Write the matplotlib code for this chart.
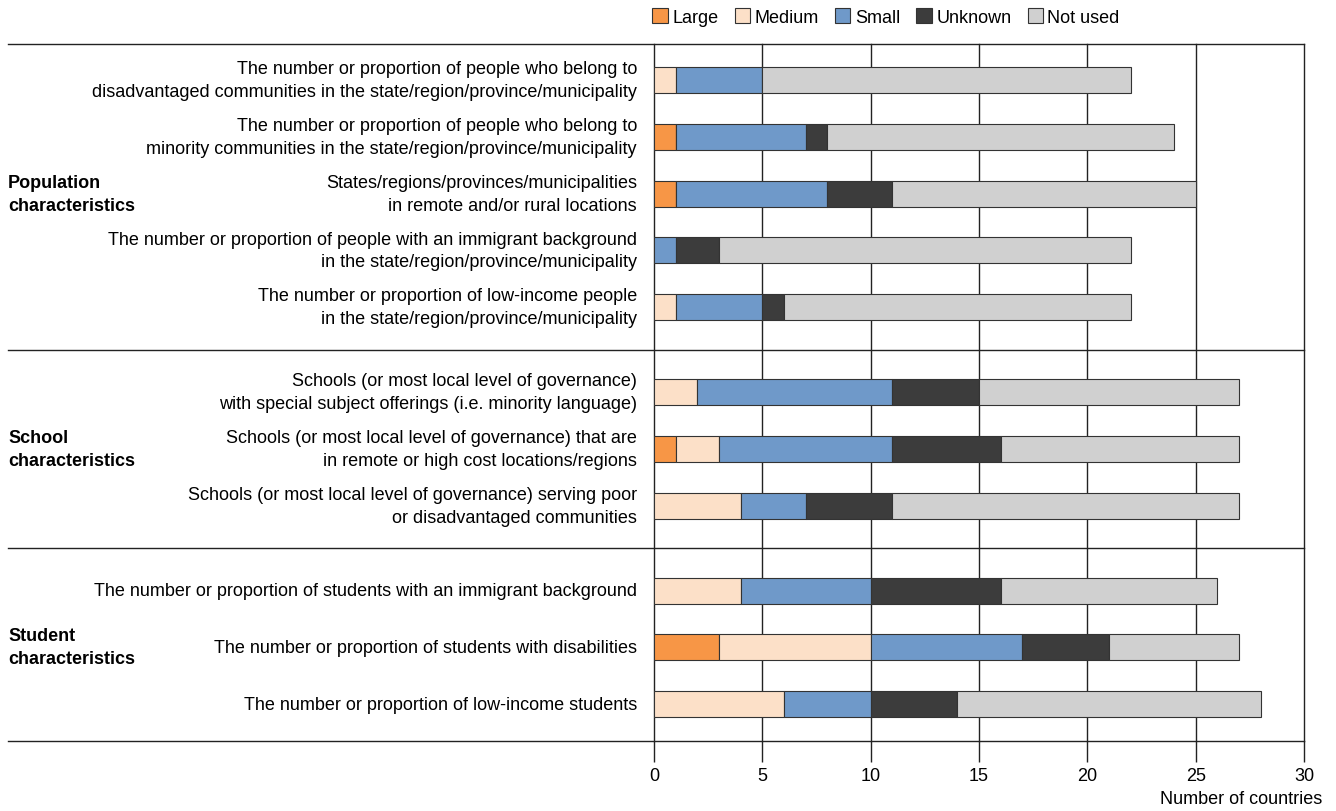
import numpy as np
import matplotlib.pyplot as plt
import matplotlib.transforms as mtransforms
from matplotlib.patches import Patch

plt.rcParams['font.family'] = ['Liberation Sans Narrow', 'Liberation Sans', 'DejaVu Sans']

labels = [
    "The number or proportion of people who belong to\ndisadvantaged communities in the state/region/province/municipality",
    "The number or proportion of people who belong to\nminority communities in the state/region/province/municipality",
    "States/regions/provinces/municipalities\nin remote and/or rural locations",
    "The number or proportion of people with an immigrant background\nin the state/region/province/municipality",
    "The number or proportion of low-income people\nin the state/region/province/municipality",
    "Schools (or most local level of governance)\nwith special subject offerings (i.e. minority language)",
    "Schools (or most local level of governance) that are\nin remote or high cost locations/regions",
    "Schools (or most local level of governance) serving poor\nor disadvantaged communities",
    "The number or proportion of students with an immigrant background",
    "The number or proportion of students with disabilities",
    "The number or proportion of low-income students",
]
groups = ["Population\ncharacteristics", "School\ncharacteristics", "Student\ncharacteristics"]
group_sizes = [5, 3, 3]

series = ["Large", "Medium", "Small", "Unknown", "Not used"]
large = [0, 1, 1, 0, 0, 0, 1, 0, 0, 3, 0]
medium = [1, 0, 0, 0, 1, 2, 2, 4, 4, 7, 6]
small = [4, 6, 7, 1, 4, 9, 8, 3, 6, 7, 4]
unknown = [0, 1, 3, 2, 1, 4, 5, 4, 6, 4, 4]
not_used = [17, 16, 14, 19, 16, 12, 11, 16, 10, 6, 14]
colors = ["#F79646", "#FCE0C8", "#6F99C9", "#3C3C3C", "#D0D0D0"]

# y positions with a gap between groups
gap = 0.5
pos = []
y = 0.0
for n in group_sizes:
    for k in range(n):
        pos.append(y)
        y += 1
    y += gap
pos = np.array(pos)

W, H = 1336, 812
fig = plt.figure(figsize=(W / 100, H / 100), dpi=100)
ax = fig.add_axes([654 / W, 1 - 742 / H, 650 / W, (742 - 45) / H])

left = np.zeros(len(labels))
for name, vals, c in zip(series, [large, medium, small, unknown, not_used], colors):
    vals = np.array(vals)
    ax.barh(pos, vals, left=left, height=0.46, color=c, edgecolor="#333333",
            linewidth=0.8, zorder=3)
    left += vals

ax.set_xlim(0, 30)
ax.set_ylim(pos[-1] + 0.65, -0.64)
ax.set_xticks(np.arange(0, 31, 5))
ax.grid(axis="x", color="#222222", linewidth=1.0, zorder=0)
for gl in ax.get_xgridlines():
    gl.set_clip_on(False)
ax.tick_params(axis="x", length=15, width=1.0, color="#222222", pad=4, labelsize=13)
ax.tick_params(axis="y", left=False, labelleft=False)
for s in ax.spines.values():
    s.set_visible(False)

# horizontal separators across the whole width
xmin = (8 - 654) / 650
ax.axhline(-0.64, xmin=xmin, xmax=1, color="#222222", lw=1.0, clip_on=False)
ax.axhline(pos[-1] + 0.65, xmin=xmin, xmax=1, color="#222222", lw=1.0, clip_on=False)
start = 0
for n in group_sizes[:-1]:
    sep = (pos[start + n - 1] + pos[start + n]) / 2
    ax.axhline(sep, xmin=xmin, xmax=1, color="#222222", lw=1.0, clip_on=False)
    start += n

# category labels
for p, lab in zip(pos, labels):
    ax.annotate(lab, xy=(0, p), xycoords=("axes fraction", "data"),
                xytext=(-17, 0), textcoords="offset pixels",
                ha="right", va="center", fontsize=13, linespacing=1.45)

# group labels
trans = mtransforms.blended_transform_factory(fig.transFigure, ax.transData)
start = 0
for g, n in zip(groups, group_sizes):
    mid = pos[start:start + n].mean()
    ax.text(8 / W, mid, g, transform=trans, fontsize=13, fontweight="bold",
            ha="left", va="center", linespacing=1.45)
    start += n

fig.text(1322 / W, 1 - 800 / H, "Number of countries", ha="right", va="center", fontsize=13)

handles = [Patch(facecolor=c, edgecolor="#333333", linewidth=0.8) for c in colors]
fig.legend(handles, series, loc="center", bbox_to_anchor=(886 / W, 1 - 18 / H), ncol=5,
           frameon=False, fontsize=13, handlelength=0.85, handleheight=0.85,
           handletextpad=0.25, columnspacing=0.9, borderaxespad=0)

fig.savefig("out.png", dpi=100)
